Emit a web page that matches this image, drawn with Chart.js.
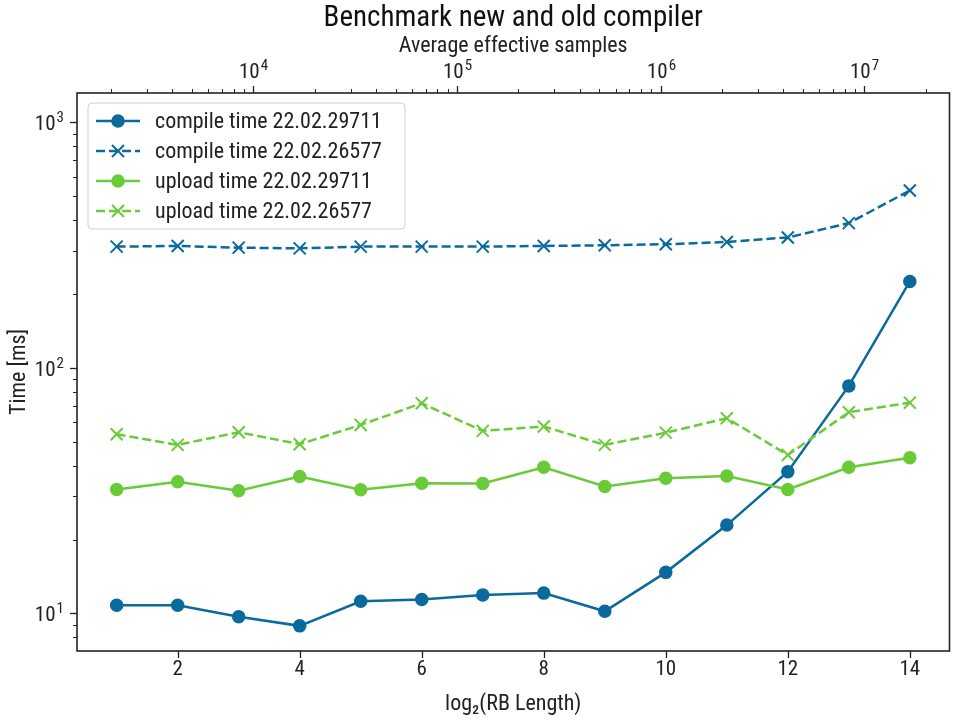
<!DOCTYPE html>
<html>
<head>
<meta charset="utf-8">
<title>Benchmark new and old compiler</title>
<script src="https://cdn.jsdelivr.net/npm/chart.js@4.4.1/dist/chart.umd.min.js"></script>
<style>
  html, body { margin: 0; padding: 0; background: #fff; }
  #wrap { width: 960px; height: 720px; }
</style>
</head>
<body>
<div id="wrap"><canvas id="chart" width="960" height="720"></canvas></div>
<script>
// data
const rbLog2 = [1, 2, 3, 4, 5, 6, 7, 8, 9, 10, 11, 12, 13, 14];
const compileNew = [10.8, 10.8, 9.7, 8.9, 11.2, 11.4, 11.9, 12.1, 10.2, 14.7, 22.9, 37.8, 84.5, 225];
const compileOld = [312, 314, 309, 307, 312, 312, 312, 314, 316, 319, 326, 340, 389, 528];
const uploadNew = [32.0, 34.4, 31.6, 36.1, 31.9, 33.9, 33.8, 39.4, 32.9, 35.5, 36.3, 32.0, 39.4, 43.1];
const uploadOld = [53.7, 48.6, 54.7, 48.9, 58.6, 71.8, 55.4, 57.7, 48.6, 54.5, 62.4, 44.2, 66.0, 72.2];
const seriesLabels = ['compile time 22.02.29711', 'compile time 22.02.26577',
                      'upload time 22.02.29711', 'upload time 22.02.26577'];
const xTicks = [2, 4, 6, 8, 10, 12, 14];

const BLUE = '#0a6a9c';
const GREEN = '#6acb38';
const FONT = '"Liberation Sans Narrow", "Roboto Condensed", Roboto, "DejaVu Sans", sans-serif';

Chart.defaults.font.family = FONT;
Chart.defaults.color = '#222';

function isPow10(v) {
    const e = Math.log10(v);
    return Math.abs(e - Math.round(e)) < 1e-9;
}

// every 1..9 x 10^k value inside [min, max]
function logTicks(scale) {
    const out = [];
    const lo = Math.floor(Math.log10(scale.min));
    const hi = Math.ceil(Math.log10(scale.max));
    for (let e = lo; e <= hi; e++) {
        for (let m = 1; m < 10; m++) {
            const v = m * Math.pow(10, e);
            if (v >= scale.min && v <= scale.max) out.push({ value: v, major: m === 1 });
        }
    }
    scale.ticks = out;
}

function toPoints(ys) {
    return rbLog2.map((x, i) => ({ x: x, y: ys[i] }));
}

// "10" with a raised exponent, like matplotlib's log labels
function drawPow(ctx, exp, x, baseline, anchor) {
    ctx.font = '21px ' + FONT;
    const w1 = ctx.measureText('10').width;
    ctx.font = '15px ' + FONT;
    const w2 = ctx.measureText(exp).width;
    const left = anchor === 'right' ? x - w1 - w2 - 1 : x - (w1 + w2 + 1) / 2;
    ctx.textAlign = 'left';
    ctx.textBaseline = 'alphabetic';
    ctx.font = '21px ' + FONT;
    ctx.fillText('10', left, baseline);
    ctx.font = '15px ' + FONT;
    ctx.fillText(exp, left + w1 + 1, baseline - 8);
}

// ticks, log labels and the box around the plot, matplotlib style
const frame = {
    id: 'frame',
    afterDraw(chart) {
        const ctx = chart.ctx;
        const a = chart.chartArea;
        ctx.save();
        ctx.strokeStyle = '#222';
        ctx.fillStyle = '#222';
        const mark = (scale, side) => {
            scale.ticks.forEach(t => {
                const p = Math.round(scale.getPixelForValue(t.value)) + 0.5;
                const len = t.major ? 7 : 4;
                ctx.lineWidth = t.major ? 1.3 : 1;
                ctx.beginPath();
                if (side === 'left') { ctx.moveTo(a.left, p); ctx.lineTo(a.left - len, p); }
                if (side === 'bottom') { ctx.moveTo(p, a.bottom); ctx.lineTo(p, a.bottom + len); }
                if (side === 'top') { ctx.moveTo(p, a.top); ctx.lineTo(p, a.top - len); }
                ctx.stroke();
                if (side !== 'bottom' && isPow10(t.value)) {
                    const exp = String(Math.round(Math.log10(t.value)));
                    if (side === 'left') drawPow(ctx, exp, a.left - 13, p + 7, 'right');
                    else drawPow(ctx, exp, p, a.top - 15, 'center');
                }
            });
        };
        mark(chart.scales.y, 'left');
        mark(chart.scales.x, 'bottom');
        mark(chart.scales.x2, 'top');
        ctx.lineWidth = 1.6;
        ctx.strokeRect(a.left, a.top, a.right - a.left, a.bottom - a.top);
        ctx.restore();
    }
};

// legend box in the upper left corner of the plot
const boxLegend = {
    id: 'boxLegend',
    afterDraw(chart) {
        const ctx = chart.ctx;
        const a = chart.chartArea;
        const x0 = a.left + 11, y0 = a.top + 10, w = 317, h = 126;
        ctx.save();
        ctx.beginPath();
        ctx.roundRect(x0, y0, w, h, 4);
        ctx.fillStyle = 'rgba(255,255,255,0.85)';
        ctx.fill();
        ctx.strokeStyle = '#d0d0d0';
        ctx.lineWidth = 1;
        ctx.stroke();
        ctx.font = '22px ' + FONT;
        ctx.textBaseline = 'middle';
        chart.data.datasets.forEach((ds, i) => {
            const cy = y0 + 18 + i * 30;
            const lx = x0 + 8;
            ctx.strokeStyle = ds.borderColor;
            ctx.lineWidth = ds.borderWidth;
            ctx.setLineDash(ds.borderDash || []);
            ctx.beginPath();
            ctx.moveTo(lx, cy);
            ctx.lineTo(lx + 44, cy);
            ctx.stroke();
            ctx.setLineDash([]);
            ctx.fillStyle = ds.backgroundColor;
            ctx.lineWidth = ds.pointBorderWidth;
            Chart.helpers.drawPoint(ctx, {
                pointStyle: ds.pointStyle, radius: ds.pointRadius, rotation: 0, borderWidth: ds.pointBorderWidth
            }, lx + 22, cy);
            ctx.fillStyle = '#222';
            ctx.fillText(ds.label, x0 + 67, cy + 1);
        });
        ctx.restore();
    }
};

const lineStyle = (color, dashed) => ({
    borderColor: color,
    backgroundColor: color,
    borderWidth: 2.5,
    borderDash: dashed ? [9, 4] : [],
    pointStyle: dashed ? 'crossRot' : 'circle',
    pointRadius: dashed ? 8.5 : 6,
    pointBorderWidth: dashed ? 2 : 1.5,
    pointHoverRadius: dashed ? 8.5 : 6,
    tension: 0
});

new Chart(document.getElementById('chart'), {
    type: 'line',
    data: {
        datasets: [
            Object.assign({ label: seriesLabels[0], data: toPoints(compileNew), order: 4 }, lineStyle(BLUE, false)),
            Object.assign({ label: seriesLabels[1], data: toPoints(compileOld), order: 3 }, lineStyle(BLUE, true)),
            Object.assign({ label: seriesLabels[2], data: toPoints(uploadNew), order: 2 }, lineStyle(GREEN, false)),
            Object.assign({ label: seriesLabels[3], data: toPoints(uploadOld), order: 1 }, lineStyle(GREEN, true))
        ]
    },
    options: {
        responsive: false,
        animation: false,
        events: [],
        layout: { padding: { right: 7, left: 0, top: 0, bottom: 0 } },
        plugins: {
            legend: { display: false },
            tooltip: { enabled: false },
            title: {
                display: true,
                fullSize: false,
                text: 'Benchmark new and old compiler',
                font: { size: 29, weight: 'normal', lineHeight: 1.0 },
                color: '#111',
                padding: { top: 4, bottom: 0 }
            }
        },
        scales: {
            x: {
                type: 'linear',
                position: 'bottom',
                min: 0.35,
                max: 14.65,
                afterBuildTicks: s => { s.ticks = xTicks.map(v => ({ value: v, major: true })); },
                afterFit: s => { s.height = 69; },
                grid: { display: false },
                border: { display: false },
                ticks: { autoSkip: false, maxRotation: 0, padding: -2, font: { size: 21 }, color: '#222' },
                title: { display: true, text: 'log₂(RB Length)', font: { size: 22 }, color: '#222', padding: { top: 0, bottom: 2 } }
            },
            x2: {
                type: 'logarithmic',
                position: 'top',
                min: 1360,
                max: 2.62e7,
                afterBuildTicks: logTicks,
                afterFit: s => { s.height = 60; },
                grid: { display: false },
                border: { display: false },
                ticks: { display: false },
                title: { display: true, text: 'Average effective samples', font: { size: 22 }, color: '#222', padding: { top: 0, bottom: 0 } }
            },
            y: {
                type: 'logarithmic',
                position: 'left',
                min: 7.03,
                max: 1318,
                afterBuildTicks: logTicks,
                afterFit: s => { s.width = 77; },
                grid: { display: false },
                border: { display: false },
                ticks: { display: false },
                title: { display: true, text: 'Time [ms]', font: { size: 22 }, color: '#222', padding: { top: 6, bottom: 0 } }
            }
        }
    },
    plugins: [frame, boxLegend]
});
</script>
</body>
</html>
